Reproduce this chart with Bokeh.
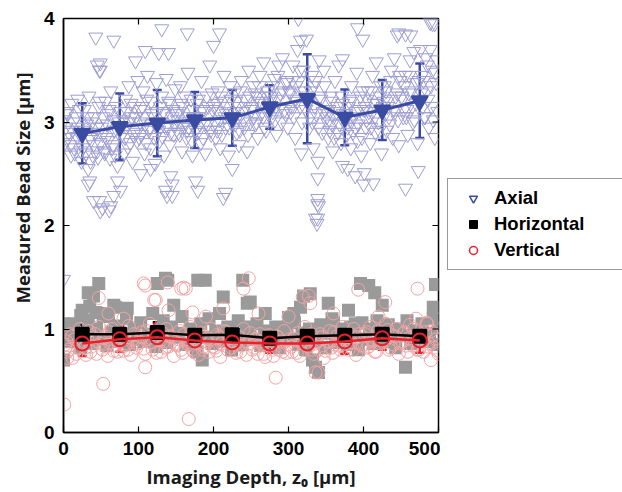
import math

from bokeh.plotting import figure
from bokeh.layouts import row
from bokeh.models import (ColumnDataSource, Whisker, TeeHead, Legend,
                          LegendItem, Title, FixedTicker)
from bokeh.embed import file_html
from bokeh.resources import INLINE

# ---------------- individual bead measurements ----------------
axial_depth = [
    1, 3, 4, 6, 9, 11, 12, 15, 17, 19, 22, 24,
    26, 28, 31, 33, 34, 37, 39, 41, 42, 45, 47, 49,
    51, 54, 56, 57, 60, 62, 63, 66, 68, 70, 72, 74,
    76, 78, 81, 83, 84, 87, 89, 91, 92, 95, 97, 99,
    101, 103, 106, 108, 109, 112, 114, 116, 117, 120, 122, 124,
    126, 128, 131, 133, 134, 137, 139, 141, 142, 145, 147, 149,
    151, 153, 156, 158, 159, 162, 164, 166, 167, 170, 172, 174,
    176, 178, 181, 183, 184, 187, 189, 191, 192, 195, 197, 199,
    201, 203, 206, 208, 209, 212, 214, 216, 217, 220, 222, 224,
    226, 228, 231, 233, 234, 237, 239, 241, 242, 245, 247, 249,
    251, 253, 256, 258, 259, 262, 264, 266, 267, 270, 272, 274,
    276, 278, 281, 283, 284, 287, 289, 291, 292, 295, 297, 299,
    301, 303, 306, 308, 309, 312, 314, 316, 317, 320, 322, 324,
    326, 328, 331, 333, 334, 337, 339, 341, 342, 345, 347, 349,
    351, 353, 356, 358, 359, 362, 364, 366, 367, 370, 372, 374,
    376, 378, 381, 383, 384, 387, 389, 391, 392, 395, 397, 399,
    401, 403, 406, 408, 409, 412, 414, 416, 417, 420, 422, 424,
    426, 428, 431, 433, 434, 437, 439, 441, 442, 445, 447, 449,
    451, 453, 456, 458, 459, 462, 464, 466, 467, 470, 472, 474,
    476, 478, 481, 483, 484, 487, 489, 491, 492, 495, 497, 499,
    2, 5, 7, 10, 13, 14, 18, 20, 21, 23,
    27, 30, 32, 35, 36, 38, 40, 44, 46, 48,
    52, 53, 55, 58, 59, 61, 65, 67, 69, 73,
    77, 80, 82, 85, 86, 88, 90, 93, 96, 98,
    102, 104, 105, 107, 110, 111, 115, 118, 121, 123,
    127, 129, 130, 132, 135, 136, 140, 143, 146, 148,
    152, 154, 155, 157, 160, 161, 165, 168, 171, 173,
    177, 179, 180, 182, 185, 186, 190, 193, 196, 198,
    202, 204, 205, 207, 210, 211, 215, 218, 221, 223,
    227, 229, 230, 232, 235, 236, 240, 243, 246, 248,
    252, 254, 255, 257, 260, 261, 265, 268, 271, 273,
    277, 279, 280, 282, 285, 286, 290, 293, 296, 298,
    302, 304, 305, 307, 310, 311, 315, 318, 321, 323,
    327, 329, 330, 332, 335, 336, 340, 343, 346, 348,
    352, 354, 355, 357, 360, 361, 365, 368, 371, 373,
    377, 379, 380, 382, 385, 386, 390, 393, 396, 398,
    402, 404, 405, 407, 410, 411, 415, 418, 421, 423,
    427, 429, 430, 432, 435, 436, 440, 443, 446, 448,
    452, 454, 455, 457, 460, 461, 465, 468, 471, 473,
    477, 479, 480, 482, 485, 486, 490, 493, 496, 498,
    0, 35, 48, 49, 45, 48, 43, 63, 67, 72, 76, 96, 109, 116, 127, 131,
    136, 140, 143, 145, 165, 176, 200, 208, 216, 313, 336, 340, 339, 338,
    372, 389, 392, 399, 401, 413, 445, 456, 456, 473, 476, 489, 495,
    33, 40, 52, 61, 67, 103, 138, 145, 179, 213, 225, 316, 372, 447,
    463, 492, 379, 400, 339, 339, 339, 49, 49,
]
axial_size = [
    3.02, 2.95, 3.10, 2.85, 2.78, 3.18, 2.92, 2.70, 3.05, 3.22, 2.88, 2.62,
    2.75, 3.12, 2.98, 2.55, 3.25, 2.83, 2.68, 3.05, 2.90, 2.72, 3.15, 2.80,
    2.95, 2.72, 3.20, 2.85, 3.08, 2.65, 3.30, 2.78, 2.92, 3.15, 2.58, 3.00,
    3.10, 2.88, 2.70, 3.22, 2.95, 3.35, 2.80, 3.05, 2.62, 3.15, 2.90, 3.40,
    2.85, 3.12, 3.30, 2.70, 2.98, 3.45, 2.92, 2.75, 3.20, 3.05, 2.60, 3.38,
    3.00, 2.82, 3.25, 3.10, 2.68, 3.42, 2.95, 3.18, 2.78, 3.05, 2.88, 3.32,
    3.08, 2.90, 3.35, 2.72, 3.15, 3.00, 2.85, 3.48, 2.95, 3.22, 2.68, 3.05,
    2.92, 3.18, 3.05, 2.80, 3.40, 3.10, 2.70, 3.25, 2.98, 3.55, 2.88, 3.12,
    3.15, 2.85, 3.30, 3.02, 2.75, 3.20, 3.45, 2.95, 3.08, 2.68, 3.35, 3.00,
    3.05, 3.28, 2.90, 3.15, 2.78, 3.40, 3.10, 2.95, 3.22, 2.72, 3.50, 3.00,
    3.12, 3.35, 2.98, 3.25, 2.85, 3.45, 3.18, 3.05, 3.58, 2.92, 3.30, 3.10,
    3.20, 3.05, 3.42, 3.15, 2.88, 3.55, 3.28, 3.00, 3.62, 3.12, 3.38, 2.95,
    3.30, 3.10, 3.55, 3.22, 2.85, 3.70, 3.40, 3.15, 2.70, 3.50, 3.25, 3.80,
    3.18, 2.95, 3.45, 2.75, 3.35, 3.08, 2.62, 3.60, 3.25, 2.90, 3.50, 3.12,
    3.05, 2.85, 3.25, 2.98, 2.72, 3.40, 3.10, 2.90, 3.55, 2.80, 3.18, 3.00,
    3.02, 2.88, 3.20, 2.75, 3.35, 3.05, 2.95, 3.48, 2.82, 3.12, 2.68, 3.30,
    3.12, 2.95, 3.30, 3.05, 2.80, 3.45, 3.18, 2.90, 3.58, 3.00, 3.25, 2.70,
    3.15, 3.35, 2.92, 3.22, 3.05, 3.50, 2.85, 3.62, 3.10, 3.28, 2.78, 3.40,
    3.25, 3.05, 3.45, 3.12, 2.88, 3.60, 3.30, 3.00, 3.68, 3.18, 2.80, 3.40,
    3.20, 3.45, 3.05, 3.62, 3.30, 2.95, 3.70, 3.15, 3.50, 2.85, 3.38, 3.10,
    2.80, 3.08, 2.90, 2.68, 3.00, 2.75, 2.86, 2.95, 3.12, 2.72,
    2.92, 2.70, 3.05, 2.85, 2.62, 3.00, 2.78, 2.95, 2.66, 3.20,
    2.88, 3.05, 2.70, 2.98, 2.82, 3.12, 2.75, 3.02, 2.68, 2.90,
    2.95, 3.02, 2.85, 3.10, 2.76, 3.00, 3.18, 2.88, 3.05, 2.82,
    3.00, 2.88, 3.15, 3.05, 2.80, 3.22, 2.95, 3.08, 2.85, 3.10,
    2.92, 3.15, 3.00, 2.86, 3.08, 2.95, 3.20, 2.90, 3.12, 2.98,
    3.02, 3.10, 2.88, 3.18, 2.95, 3.25, 2.92, 3.05, 2.82, 3.12,
    3.05, 2.90, 3.22, 2.98, 3.12, 2.85, 3.00, 3.15, 2.92, 3.28,
    3.00, 3.18, 2.92, 3.10, 3.25, 2.88, 3.05, 3.15, 2.95, 3.22,
    3.10, 2.98, 3.20, 3.05, 2.92, 3.30, 3.02, 3.15, 2.88, 3.25,
    3.15, 3.05, 3.28, 3.00, 3.20, 3.35, 3.10, 2.95, 3.25, 3.08,
    3.25, 3.10, 3.35, 3.02, 3.22, 3.45, 3.15, 3.30, 3.08, 3.40,
    3.28, 3.15, 3.40, 3.05, 3.35, 3.20, 3.50, 3.00, 3.30, 3.12,
    3.20, 3.05, 3.30, 3.00, 3.15, 3.40, 2.95, 3.22, 3.10, 3.35,
    3.00, 3.12, 2.92, 3.20, 3.05, 2.85, 3.15, 2.98, 3.25, 3.08,
    3.08, 2.95, 3.15, 3.02, 3.22, 2.90, 3.10, 2.98, 3.25, 2.85,
    3.15, 3.02, 3.22, 3.10, 2.95, 3.30, 3.05, 3.18, 2.92, 3.35,
    3.20, 3.08, 3.30, 3.15, 2.98, 3.40, 3.12, 3.25, 3.02, 3.45,
    3.22, 3.12, 3.35, 3.05, 3.28, 3.45, 3.15, 3.02, 3.38, 3.20,
    3.28, 3.15, 3.40, 3.05, 3.55, 3.22, 3.35, 3.02, 3.48, 3.60,
    1.48, 2.43, 2.24, 2.14, 3.55, 3.50, 3.82, 2.19, 3.79, 2.43, 2.34, 3.59, 3.69, 2.55, 3.67, 3.90,
    2.34, 3.67, 2.48, 2.29, 3.86, 2.43, 3.74, 3.86, 2.32, 4.00, 2.07, 2.19, 2.26, 2.02,
    2.58, 2.48, 3.91, 3.80, 2.51, 2.41, 3.84, 3.85, 2.36, 2.53, 3.70, 3.96, 3.95,
    2.40, 2.24, 2.17, 2.15, 2.29, 2.50, 2.29, 2.40, 2.34, 2.27, 2.55, 3.79, 3.61, 3.86,
    3.84, 3.95, 2.55, 2.40, 2.46, 2.21, 2.07, 3.57, 3.50,
]

horizontal_depth = [
    3, 8, 14, 19, 23, 28, 33, 38, 44, 48, 53, 58, 64, 69, 73, 79, 84, 88, 94, 98,
    103, 108, 113, 119, 123, 128, 133, 138, 144, 148, 154, 158, 163, 169, 173,
    178, 183, 188, 194, 198, 203, 208, 213, 219, 224, 229, 233, 238, 244, 248,
    254, 258, 263, 268, 273, 279, 283, 288, 294, 298, 303, 308, 313, 318, 323,
    328, 333, 338, 343, 348, 353, 358, 363, 368, 373, 378, 383, 388, 393, 398,
    403, 408, 413, 418, 423, 428, 433, 438, 443, 448, 453, 458, 463, 468, 473,
    478, 483, 488, 493, 498,
    0, 0, 47, 40, 35, 25, 67, 60, 85, 125, 139, 147, 179, 189, 185, 213, 239,
    245, 249, 269, 300, 307, 316, 320, 329, 336, 340, 332, 353, 360, 380, 389,
    396, 407, 415, 425, 456, 493, 496, 500, 33, 136, 69, 23, 43,
]
horizontal_size = [
    0.98, 0.88, 1.05, 0.92, 0.82, 0.95, 1.08, 0.86, 1.00, 0.90, 1.12, 0.84, 0.97, 1.03, 0.88,
    0.93, 1.10, 0.85, 1.00, 0.90, 1.06, 0.88, 0.95, 1.15, 0.83, 0.98, 1.08, 0.87, 1.02, 0.92,
    0.96, 1.12, 0.85, 1.00, 0.90, 0.78, 1.05, 0.92, 1.10, 0.86, 0.98, 1.15, 0.88, 1.02, 0.80,
    0.95, 1.08, 0.85, 0.97, 1.02, 0.90, 1.05, 0.84, 0.98, 0.88, 0.95, 1.02, 0.82, 0.92, 1.00,
    0.90, 1.06, 0.85, 0.96, 0.80, 1.00, 0.88, 0.92, 1.04, 0.82, 0.96, 1.10, 0.87, 1.00, 0.92,
    0.85, 1.02, 0.94, 0.80, 1.06, 0.90, 1.00, 0.86, 1.08, 0.95, 0.88, 1.04, 0.92, 0.82, 1.00,
    0.94, 1.08, 0.86, 0.98, 0.90, 1.05, 0.88, 0.96, 1.10, 0.85,
    1.05, 0.70, 1.44, 1.32, 1.22, 1.18, 1.23, 1.15, 1.20, 1.44, 1.47, 1.23, 1.47, 1.47, 0.70,
    1.31, 1.47, 1.25, 1.26, 1.15, 1.11, 1.15, 1.21, 1.32, 1.34, 0.63, 0.58, 0.70, 1.25, 1.06,
    1.18, 1.05, 1.44, 1.42, 1.35, 1.23, 0.63, 1.21, 1.43, 1.01, 1.35, 1.49, 1.21, 1.13, 1.16,
]

vertical_depth = [
    2, 5, 9, 12, 15, 19, 22, 27, 30, 34, 37, 40, 44, 47,
    52, 55, 59, 62, 65, 69, 72, 77, 80, 84, 87, 90, 94, 97,
    102, 105, 109, 112, 115, 119, 122, 127, 130, 134, 137, 140, 144, 147,
    152, 155, 159, 162, 165, 169, 172, 177, 180, 184, 187, 190, 194, 197,
    202, 205, 209, 212, 215, 219, 222, 227, 230, 234, 237, 240, 244, 247,
    252, 255, 259, 262, 265, 269, 272, 277, 280, 284, 287, 290, 294, 297,
    302, 305, 309, 312, 315, 319, 322, 327, 330, 334, 337, 340, 344, 347,
    352, 355, 359, 362, 365, 369, 372, 377, 380, 384, 387, 390, 394, 397,
    402, 405, 409, 412, 415, 419, 422, 427, 430, 434, 437, 440, 444, 447,
    452, 455, 459, 462, 465, 469, 472, 477, 480, 484, 487, 490, 494, 497,
    4, 7, 11, 17, 24, 29, 32, 36, 42, 49, 54, 57, 61, 67, 74,
    79, 82, 86, 92, 99, 104, 107, 111, 117, 124, 129, 132, 136, 142, 149,
    154, 157, 161, 167, 174, 179, 182, 186, 192, 199, 204, 207, 211, 217, 224,
    229, 232, 236, 242, 249, 254, 257, 261, 267, 274, 279, 282, 286, 292, 299,
    304, 307, 311, 317, 324, 329, 332, 336, 342, 349, 354, 357, 361, 367, 374,
    379, 382, 386, 392, 399, 404, 407, 411, 417, 424, 429, 432, 436, 442, 449,
    454, 457, 461, 467, 474, 479, 482, 486, 492, 499,
    1, 53, 109, 47, 109, 107, 121, 139, 157, 160, 123, 247, 240, 163, 283, 167,
    260, 213, 172, 393, 472, 429, 336, 340, 327, 329, 319, 5, 60, 80, 140, 190,
    300, 360, 420, 470, 485, 490, 500,
]
vertical_size = [
    0.85, 0.78, 0.95, 0.72, 0.90, 0.82, 1.00, 0.88, 0.75, 0.98, 0.83, 0.92, 0.76, 1.02,
    0.80, 0.93, 0.74, 0.87, 1.00, 0.84, 0.78, 0.92, 0.79, 0.86, 1.03, 0.75, 0.95, 0.82,
    0.87, 0.97, 0.76, 0.90, 1.05, 0.80, 0.93, 0.95, 0.78, 0.88, 1.00, 0.83, 0.92, 0.74,
    0.84, 0.98, 0.77, 0.90, 0.86, 1.02, 0.80, 0.90, 0.75, 0.96, 0.83, 0.88, 0.78, 1.00,
    0.82, 0.94, 0.73, 0.88, 0.98, 0.80, 0.91, 0.88, 0.77, 0.92, 0.84, 1.00, 0.75, 0.86,
    0.80, 0.90, 0.76, 0.95, 0.85, 0.73, 0.92, 0.86, 0.74, 0.93, 0.80, 0.88, 0.98, 0.77,
    0.90, 0.78, 0.85, 0.96, 0.74, 0.88, 1.02, 0.83, 0.95, 0.76, 0.88, 0.80, 0.92, 0.72,
    0.88, 0.98, 0.77, 0.85, 0.93, 0.80, 1.02, 0.92, 0.80, 0.87, 1.00, 0.75, 0.95, 0.84,
    0.95, 0.82, 1.02, 0.88, 0.78, 0.98, 0.86, 0.90, 1.05, 0.80, 0.94, 0.85, 1.00, 0.76,
    0.88, 0.97, 0.78, 1.04, 0.84, 0.92, 0.80, 0.93, 0.78, 1.06, 0.86, 0.98, 0.82, 0.90,
    0.88, 0.80, 0.93, 0.76, 0.86, 0.82, 0.90, 0.78, 0.95, 0.86, 0.91, 0.83, 0.97, 0.79, 0.88,
    0.94, 0.84, 0.80, 0.90, 0.86, 0.92, 0.81, 0.98, 0.87, 0.77, 0.89, 0.96, 0.82, 0.93, 0.85,
    0.90, 0.80, 0.95, 0.85, 0.78, 0.86, 0.94, 0.80, 0.91, 0.83, 0.79, 0.92, 0.86, 0.97, 0.82,
    0.85, 0.93, 0.78, 0.88, 0.96, 0.82, 0.90, 0.84, 0.76, 0.94, 0.80, 0.87, 0.92, 0.78, 0.85,
    0.83, 0.91, 0.77, 0.88, 0.94, 0.90, 0.80, 0.86, 0.95, 0.79, 0.88, 0.82, 0.97, 0.84, 0.92,
    0.86, 0.95, 0.80, 0.92, 0.84, 0.97, 0.83, 0.90, 0.78, 0.94, 0.89, 0.99, 0.82, 0.93, 0.86,
    0.96, 0.84, 0.91, 1.00, 0.80, 0.88, 0.97, 0.83, 0.94, 0.79,
    0.27, 0.47, 0.63, 1.30, 1.42, 1.44, 1.28, 1.45, 1.39, 1.40, 1.28, 1.49, 1.39, 1.39, 0.53, 0.13,
    1.15, 1.20, 1.16, 1.38, 1.39, 1.26, 0.58, 0.58, 1.32, 1.25, 1.31, 0.72, 1.15, 1.10, 1.18, 1.12,
    1.12, 1.15, 1.12, 1.10, 1.05, 0.70, 0.76,
]

# ---------------- binned means and standard deviations ----------------
bin_depth = [25, 75, 125, 175, 225, 275, 325, 375, 425, 475]
axial_mean = [2.89, 2.955, 2.99, 3.02, 3.04, 3.145, 3.225, 3.045, 3.115, 3.205]
axial_std = [0.29, 0.32, 0.32, 0.27, 0.27, 0.21, 0.43, 0.27, 0.29, 0.36]
horizontal_mean = [0.95, 0.95, 0.965, 0.94, 0.945, 0.91, 0.93, 0.94, 0.95, 0.93]
horizontal_std = [0.09, 0.09, 0.10, 0.09, 0.09, 0.08, 0.09, 0.09, 0.09, 0.10]
vertical_mean = [0.86, 0.90, 0.92, 0.89, 0.87, 0.86, 0.86, 0.88, 0.91, 0.89]
vertical_std = [0.12, 0.12, 0.13, 0.12, 0.12, 0.09, 0.11, 0.12, 0.11, 0.12]

x_ticks = [0, 100, 200, 300, 400, 500]
y_ticks = [0, 1, 2, 3, 4]
X_MAX, Y_MAX = 500, 4

AXIAL_LIGHT = "#9d9dd3"
AXIAL_DARK = "#3a4ba2"
HORIZ_LIGHT = "#9a9a9a"
VERT_LIGHT = "#f4a3a3"
VERT_DARK = "#e8212b"

TICK_FONT = "Liberation Sans"
LABEL_FONT = "Open Sans"

p = figure(width=440, height=492, x_range=(0, X_MAX), y_range=(0, Y_MAX),
           output_backend="svg", toolbar_location=None,
           min_border_left=63, min_border_right=2, min_border_top=18,
           min_border_bottom=60, background_fill_color="white",
           border_fill_color="white", outline_line_color="black",
           outline_line_width=1.5)
p.grid.visible = False

# scatter clouds
p.scatter(axial_depth, axial_size, marker="inverted_triangle", size=14,
          fill_color=None, line_color=AXIAL_LIGHT, line_width=1)
p.scatter(horizontal_depth, horizontal_size, marker="square", size=13,
          fill_color=HORIZ_LIGHT, line_color=None)
p.scatter(vertical_depth, vertical_size, marker="circle", size=13,
          fill_color=None, line_color=VERT_LIGHT, line_width=1)


def summary(mean, std, color, marker, size, filled, line_w):
    src = ColumnDataSource(dict(
        x=bin_depth, y=mean,
        lo=[m - s for m, s in zip(mean, std)],
        hi=[m + s for m, s in zip(mean, std)]))
    p.line("x", "y", source=src, line_color=color, line_width=line_w)
    head = dict(size=9, line_color=color, line_width=2.5)
    p.add_layout(Whisker(source=src, base="x", lower="lo", upper="hi",
                         line_color=color, line_width=2.5,
                         lower_head=TeeHead(**head), upper_head=TeeHead(**head)))
    p.scatter("x", "y", source=src, marker=marker, size=size,
              fill_color=color if filled else None, line_color=color,
              line_width=2)


summary(horizontal_mean, horizontal_std, "black", "square", 13, True, 2.5)
summary(vertical_mean, vertical_std, VERT_DARK, "circle", 14, False, 2.5)
summary(axial_mean, axial_std, AXIAL_DARK, "inverted_triangle", 16, True, 3)

# inward tick marks along the top and right edges of the box
p.ray(x=x_ticks[1:-1], y=[Y_MAX] * (len(x_ticks) - 2), length=6,
      length_units="screen", angle=-math.pi / 2, line_color="black", line_width=1.2)
p.ray(x=[X_MAX] * (len(y_ticks) - 2), y=y_ticks[1:-1], length=6,
      length_units="screen", angle=math.pi, line_color="black", line_width=1.2)

# main axes: ticks point inward
for ax in (p.xaxis[0], p.yaxis[0]):
    ax.major_tick_in = 6
    ax.major_tick_out = 0
    ax.minor_tick_line_color = None
    ax.axis_line_width = 1.5
    ax.major_tick_line_width = 1.2
    ax.major_label_text_font = TICK_FONT
    ax.major_label_text_font_style = "bold"
    ax.major_label_text_font_size = "19px"
    ax.major_label_text_color = "black"

p.xaxis.ticker = FixedTicker(ticks=x_ticks)
p.yaxis.ticker = FixedTicker(ticks=y_ticks)
p.xaxis.major_label_standoff = 9
p.yaxis.major_label_standoff = 9

p.xaxis.axis_label = "Imaging Depth, z₀ [µm]"
p.xaxis.axis_label_text_font = LABEL_FONT
p.xaxis.axis_label_text_font_style = "bold"
p.xaxis.axis_label_text_font_size = "18.5px"
p.xaxis.axis_label_text_color = "#1a1a1a"
p.xaxis.axis_label_standoff = 6

# y axis title, shifted upward along the axis
p.add_layout(Title(text="Measured Bead Size [µm]", align="left", offset=129,
                   text_font=LABEL_FONT, text_font_style="bold",
                   text_font_size="18.5px", text_color="#1a1a1a", standoff=11),
             "left")

# legend panel to the right of the plot; its swatches come from the binned
# means, which sit outside this panel's (empty) view
lp = figure(width=182, height=492, x_range=(0, 1), y_range=(0, 1),
            output_backend="svg", toolbar_location=None,
            x_axis_location=None, y_axis_location=None,
            min_border=0, outline_line_color=None,
            background_fill_color="white", border_fill_color="white")
lp.grid.visible = False
leg_ax = lp.scatter(bin_depth, axial_mean, marker="inverted_triangle", size=12,
                    fill_color=None, line_color=AXIAL_DARK, line_width=1.5)
leg_ho = lp.scatter(bin_depth, horizontal_mean, marker="square", size=11,
                    fill_color="black", line_color="black")
leg_ve = lp.scatter(bin_depth, vertical_mean, marker="circle", size=11,
                    fill_color=None, line_color=VERT_DARK, line_width=1.5)
legend = Legend(items=[LegendItem(label="Axial", renderers=[leg_ax]),
                       LegendItem(label="Horizontal", renderers=[leg_ho]),
                       LegendItem(label="Vertical", renderers=[leg_ve])],
                location=(7, 162), padding=8, spacing=4, glyph_width=34,
                glyph_height=20, label_height=20, label_width=120,
                label_standoff=4, margin=0,
                label_text_font=TICK_FONT, label_text_font_style="bold",
                label_text_font_size="18.5px", label_text_color="black",
                border_line_color="#333333",
                border_line_width=1.2, background_fill_color="white")
lp.add_layout(legend)

open("out.html", "w").write(file_html(row(p, lp), INLINE))
